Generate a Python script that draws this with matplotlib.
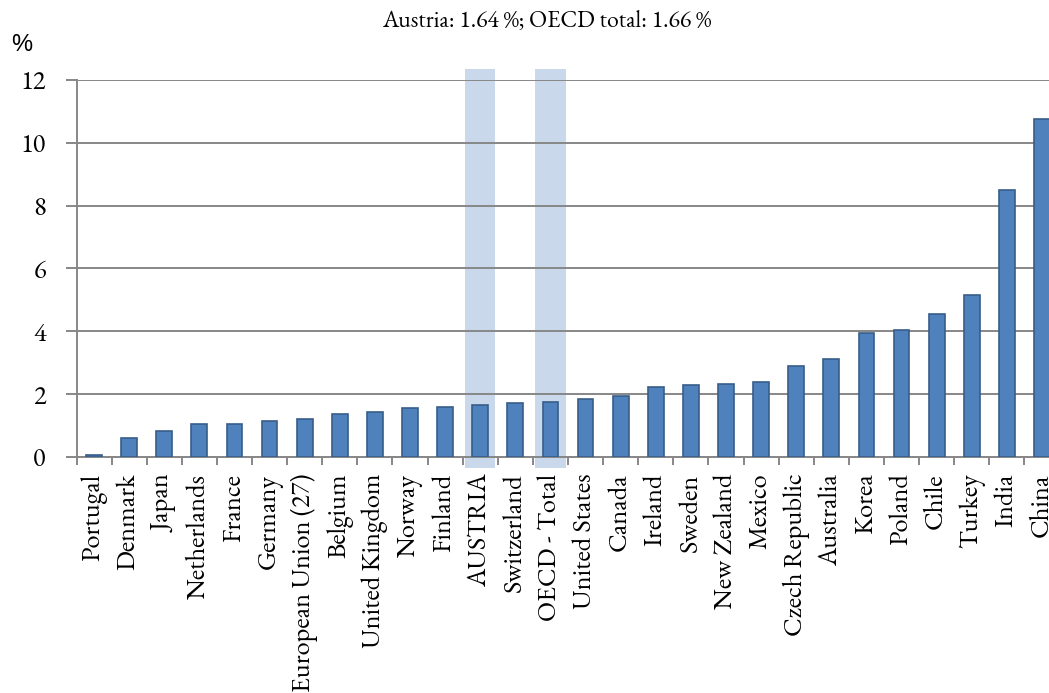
import matplotlib
matplotlib.use("Agg")
import matplotlib.pyplot as plt
import numpy as np

countries = ["Portugal", "Denmark", "Japan", "Netherlands", "France", "Germany",
             "European Union (27)", "Belgium", "United Kingdom", "Norway", "Finland",
             "AUSTRIA", "Switzerland", "OECD - Total", "United States", "Canada",
             "Ireland", "Sweden", "New Zealand", "Mexico", "Czech Republic",
             "Australia", "Korea", "Poland", "Chile", "Turkey", "India", "China"]
values = [0.05, 0.60, 0.83, 1.05, 1.06, 1.14, 1.21, 1.37, 1.44, 1.56, 1.60,
          1.64, 1.72, 1.74, 1.84, 1.95, 2.24, 2.29, 2.33, 2.40, 2.91,
          3.12, 3.96, 4.03, 4.55, 5.17, 8.50, 10.75]
highlighted = ["AUSTRIA", "OECD - Total"]
title = "Austria: 1.64 %; OECD total: 1.66 %"

serif = ["EB Garamond", "Liberation Serif", "DejaVu Serif"]
grey = "#878787"

fig = plt.figure(figsize=(10.49, 6.93), dpi=100)
ax = fig.add_axes([76.5 / 1049, 1 - 457 / 693, 983 / 1049, 377 / 693])

x = np.arange(len(countries))
# light blue bands behind the two reference bars
for name in highlighted:
    i = countries.index(name)
    ax.axvspan(i - 0.43, i + 0.43, ymin=-0.03, ymax=1.03, color="#c9d8eb",
               zorder=0, clip_on=False, lw=0)

ax.bar(x, values, width=0.45, color="#4f81bd", edgecolor="#385d8a",
       linewidth=1.2, zorder=3)

ax.set_xlim(-0.5, len(countries) - 0.5)
ax.set_ylim(0, 12)
ax.set_yticks(range(0, 13, 2))
ax.yaxis.grid(True, color=grey, linewidth=1.4, zorder=1)
ax.set_axisbelow(True)

ax.set_xticks(x)
ax.set_xticklabels(countries, rotation=90, fontsize=19, family=serif)
ax.set_xticks(np.arange(len(countries) + 1) - 0.5, minor=True)
ax.tick_params(axis="x", which="major", length=0, pad=12)
ax.tick_params(axis="x", which="minor", length=6, width=1.4, color=grey)
ax.tick_params(axis="y", length=8, width=1.4, color=grey, pad=14,
               labelsize=19)
for lab in ax.get_yticklabels():
    lab.set_family(serif)

for side in ["top", "right"]:
    ax.spines[side].set_visible(False)
for side in ["left", "bottom"]:
    ax.spines[side].set_color(grey)
    ax.spines[side].set_linewidth(1.4)

fig.text(547 / 1049, 1 - 22 / 693, title, ha="center", va="center",
         fontsize=17, family=serif)
fig.text(11 / 1049, 1 - 45 / 693, "%", ha="left", va="center",
         fontsize=17, family="Liberation Sans")

fig.savefig("out.png", dpi=100)
